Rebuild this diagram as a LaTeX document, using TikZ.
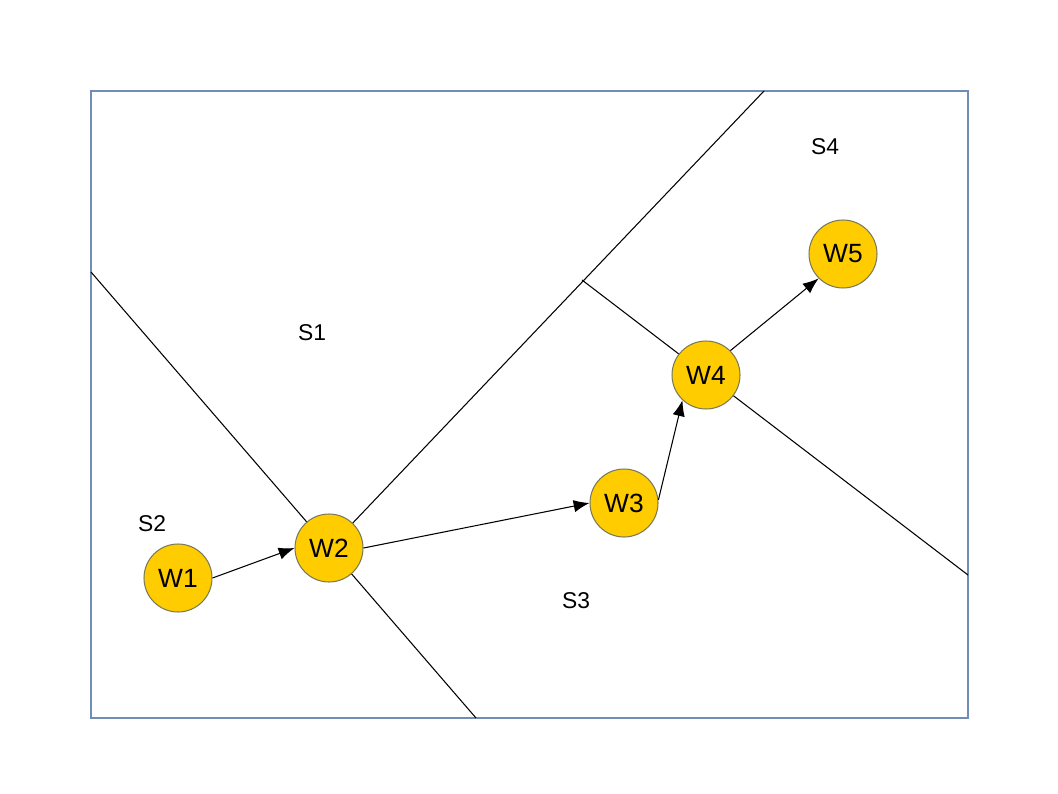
\documentclass[tikz,border=0pt]{standalone}
\usepackage{fontspec}
\setmainfont{Liberation Sans}
\usetikzlibrary{arrows.meta}
\definecolor{frameblue}{HTML}{6F8DB5}
\definecolor{wfill}{HTML}{FFCC00}
\definecolor{wborder}{HTML}{7A7A5A}
\begin{document}
\begin{tikzpicture}[x=0.02cm,y=-0.02cm,
  wnode/.style={circle,fill=wfill,draw=wborder,line width=0.6pt,minimum size=1.36cm,inner sep=0pt,font=\fontsize{15}{17}\selectfont},
  slabel/.style={font=\fontsize{13}{15}\selectfont},
  divider/.style={black,line width=0.6pt},
  move/.style={-{Latex[length=9pt,width=7pt]},black,line width=0.6pt}]
\useasboundingbox (0,0) rectangle (1058,794);
\draw[frameblue,line width=0.8pt] (91,91) rectangle (968,718);
% dividers
\coordinate (d1) at (91,272);
\coordinate (d2) at (476,718);
\coordinate (d3) at (764,91);
\coordinate (d4) at (582,280);
\coordinate (d5) at (968,575);
\draw[divider] (d1) -- (d2);
\draw[divider] (329,548) -- (d3);
\draw[divider] (d4) -- (d5);
% nodes
\node[wnode] (W1) at (178,578) {W1};
\node[wnode] (W2) at (329,548) {W2};
\node[wnode] (W3) at (624,503) {W3};
\node[wnode] (W4) at (706,375) {W4};
\node[wnode] (W5) at (843,254) {W5};
% labels
\node[slabel] (S1) at (312,333) {S1};
\node[slabel] (S2) at (152,524) {S2};
\node[slabel] (S3) at (576,601) {S3};
\node[slabel] (S4) at (825,147) {S4};
% arrows
\draw[move] (W1.east) -- (W2.west);
\draw[move] (W2.east) -- (W3.west);
\draw[move] (W3.5) -- (W4.-133);
\draw[move] (W4.north east) -- (W5.south west);
\end{tikzpicture}
\end{document}
